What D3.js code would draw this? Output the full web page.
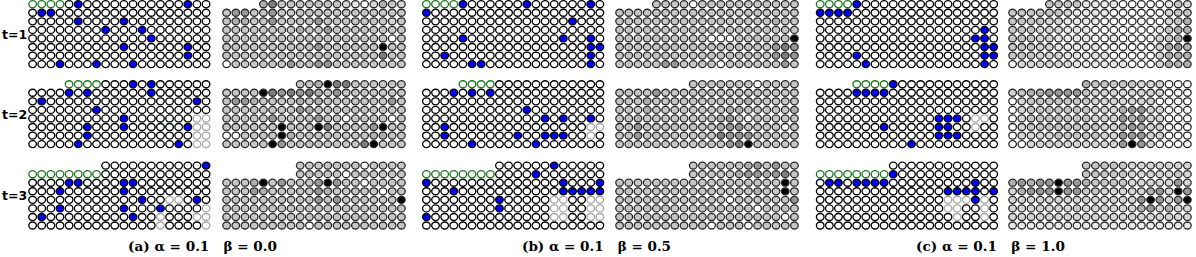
<!DOCTYPE html>
<html><head><meta charset="utf-8">
<script src="https://cdn.jsdelivr.net/npm/d3@7"></script>
<style>body{margin:0;background:#fff} svg{display:block}</style>
</head><body>
<svg id="chart" width="1196" height="257"></svg>
<script>
// ---------- labels ----------
const panelLabels = ["(a)", "(b)", "(c)"];
const alphaValues = ["0.1", "0.1", "0.1"];
const betaValues = ["0.0", "0.5", "1.0"];
const timeLabels = ["t=1", "t=2", "t=3"];
const nCols = 20, nRows = 8;

// ---------- grid shapes per time step [row, col] ----------
const newCells = [
  [[0,0],[0,1],[0,2],[0,3]],
  [[0,4],[0,5],[0,6],[0,7]],
  [[1,0],[1,1],[1,2],[1,3],[1,4],[1,5],[1,6],[1,7]]
];
const hiddenAgentCells = [
  [],
  [[0,0],[0,1],[0,2],[0,3]],
  [[0,0],[0,1],[0,2],[0,3],[0,4],[0,5],[0,6],[0,7]]
];

// ---------- agent positions (blue) [row, col] ----------
const agentsA1 = [[0,5],[0,17],[1,1],[1,2],[2,5],[2,10],[3,8],[3,12],[4,13],[5,10],[5,17],[6,17],[7,3],[7,7],[7,11]];
const agentsA2 = [[0,11],[0,13],[1,4],[1,6],[1,13],[2,1],[2,18],[3,7],[4,10],[5,6],[5,10],[5,17],[6,6],[7,5],[7,16]];
const agentsA3 = [[0,19],[2,4],[2,5],[2,10],[2,11],[3,3],[3,10],[4,12],[4,18],[5,3],[5,10],[5,14],[6,1],[6,11]];
const agentsB1 = [[0,4],[0,11],[0,18],[1,0],[2,16],[4,4],[4,15],[4,18],[5,18],[5,19],[6,2],[6,18],[7,5],[7,6],[7,18]];
const agentsB2 = [[1,3],[1,5],[1,7],[3,11],[4,13],[4,15],[4,18],[5,2],[6,2],[6,10],[6,13],[6,14],[6,15],[7,5],[7,12]];
const agentsB3 = [[0,14],[1,12],[2,0],[2,15],[2,19],[3,3],[3,15],[3,16],[3,17],[3,18],[3,19],[4,8],[5,8],[6,0]];
const agentsC1 = [[0,4],[1,0],[1,1],[1,2],[1,3],[3,18],[4,17],[4,18],[5,18],[5,19],[6,4],[6,18],[6,19],[7,5],[7,18]];
const agentsC2 = [[0,8],[1,4],[1,5],[1,6],[1,7],[4,13],[4,14],[4,15],[5,7],[5,13],[5,14],[6,13],[6,14],[6,15],[7,10]];
const agentsC3 = [[1,8],[2,1],[2,2],[2,4],[2,5],[2,6],[2,7],[2,17],[3,14],[3,15],[3,16],[3,17],[3,19],[4,17]];

// ---------- faint (grey outlined) cells [row, col] ----------
const faintA1 = [];
const faintA2 = [[4,18],[4,19],[5,18],[5,19],[6,18],[6,19],[7,18],[7,19]];
const faintA3 = [[4,15],[4,16],[5,19],[6,14],[6,18],[6,19],[7,14],[7,19]];
const faintB1 = [];
const faintB2 = [[5,18],[6,18],[5,19]];
const faintB3 = [[4,14],[4,15],[4,18],[4,19],[5,14],[5,15],[5,18],[5,19],[6,14],[6,15],[6,18],[6,19]];
const faintC1 = [];
const faintC2 = [[4,17],[4,18],[5,17]];
const faintC3 = [[4,14],[4,15],[4,16],[4,18],[5,14],[5,15],[5,18],[6,15],[6,18]];

// ---------- green links under the cells [[r1,c1],[r2,c2]] ----------
const linksA1 = [[[3,18],[7,18]],[[4,18],[4,19]],[[5,18],[5,19]],[[6,18],[6,19]]];
const linksA2 = [[[4,13],[4,15]],[[5,13],[5,15]],[[6,13],[6,15]],[[4,14],[6,14]]];
const linksA3 = [[[3,14],[3,19]],[[3,17],[4,17]]];
const linksB1 = [[[4,18],[7,18]],[[5,18],[5,19]]];
const linksB2 = [[[4,13],[4,15]],[[6,13],[6,15]],[[4,14],[6,14]]];
const linksB3 = [[[3,15],[3,19]],[[2,15],[3,15]],[[2,19],[3,19]]];
const linksC1 = [[[3,18],[7,18]],[[4,17],[4,18]],[[5,18],[5,19]],[[6,18],[6,19]],[[5,19],[6,19]]];
const linksC2 = [[[4,13],[4,15]],[[5,13],[5,14]],[[6,13],[6,15]],[[4,13],[6,13]],[[4,14],[6,14]]];
const linksC3 = [[[3,14],[3,19]],[[2,17],[4,17]],[[2,4],[2,7]],[[2,1],[2,2]]];

// ---------- exploration maps (right): '.' none, 0 white .. 9 black ----------
const mapA1 = [
  "....4 63333 33321 02432",
  "35533 53333 33333 33333",
  "34433 53333 53333 33323",
  "33333 33343 35333 33333",
  "33333 33333 33333 33303",
  "33333 33333 53333 33933",
  "33333 33333 33333 33633",
  "03333 33533 55333 33333"
];
const mapA2 = [
  "..... ...33 49663 33333",
  "33339 65656 43533 33333",
  "35543 33343 43333 33353",
  "33333 33354 33333 33333",
  "33333 53333 53303 33303",
  "33333 39333 96333 35933",
  "00333 39433 33333 34433",
  "33333 95333 33333 69333"
];
const mapA3 = [
  "..... ...33 33333 03333",
  "..... ...33 33303 33333",
  "33349 35333 59533 03333",
  "33354 33333 54333 33033",
  "33333 33333 53533 33339",
  "33333 33333 33333 33333",
  "33333 33333 33333 33333",
  "33333 33330 33333 33333"
];
const mapB1 = [
  "....3 33303 33333 33333",
  "33333 33333 33323 33333",
  "33333 33333 33333 33433",
  "33333 33333 33333 33333",
  "33333 33333 00033 33339",
  "33333 33333 33333 33565",
  "33333 33333 33333 33565",
  "33333 55333 30333 33353"
];
const mapB2 = [
  "..... ...33 33333 03333",
  "33335 33333 33333 33333",
  "33343 33333 33334 33333",
  "33343 33333 33443 33334",
  "33433 33333 34530 33333",
  "33533 33333 34553 33303",
  "33533 33333 36555 33333",
  "33333 33333 33569 33333"
];
const mapB3 = [
  "..... ...33 33334 53533",
  "..... ...33 33345 54563",
  "33333 33333 33333 33393",
  "33333 33333 33333 43393",
  "33333 33333 33033 33335",
  "33333 33333 33333 03333",
  "33333 33333 33333 33303",
  "33333 33333 03330 33333"
];
const mapC1 = [
  "....3 33311 11000 00132",
  "33333 32111 10000 00233",
  "33332 21111 00000 00234",
  "33322 21110 00000 01344",
  "33322 11110 01000 02349",
  "33322 11111 00000 02454",
  "33322 21111 10000 02444",
  "02222 22111 11100 02444"
];
const mapC2 = [
  "..... ...43 33332 22000",
  "23445 55532 22222 22000",
  "02333 33332 22222 20000",
  "02333 33332 22455 22000",
  "02333 33332 22545 22000",
  "02333 33333 22454 22000",
  "02222 33333 22555 22000",
  "00222 22222 22595 20000"
];
const mapC3 = [
  "..... ...33 33322 22222",
  "..... ...33 33322 22232",
  "45455 95543 33322 22252",
  "24555 95533 22222 45295",
  "22222 22222 22225 95259",
  "22222 22322 22224 52422",
  "22222 22222 22222 22222",
  "11111 11111 11111 11111"
];

const agentSets = [[agentsA1, agentsA2, agentsA3], [agentsB1, agentsB2, agentsB3], [agentsC1, agentsC2, agentsC3]];
const faintSets = [[faintA1, faintA2, faintA3], [faintB1, faintB2, faintB3], [faintC1, faintC2, faintC3]];
const linkSets = [[linksA1, linksA2, linksA3], [linksB1, linksB2, linksB3], [linksC1, linksC2, linksC3]];
const mapGrids = [[mapA1, mapA2, mapA3], [mapB1, mapB2, mapB3], [mapC1, mapC2, mapC3]];

// ---------- drawing ----------
const svg = d3.select("#chart");
const shade = d3.scaleOrdinal().domain(d3.range(10))
  .range(["#ffffff", "#e8e8e8", "#d6d6d6", "#c6c6c6", "#b0b0b0", "#989898", "#7e7e7e", "#5e5e5e", "#3a3a3a", "#000000"]);
const rowTops = [4.2, 84.2, 165.6];
const rowStep = 8.56;
const yScale = t => d3.scaleLinear().domain([0, nRows - 1]).range([rowTops[t], rowTops[t] + (nRows - 1) * rowStep]);
const xAgents = p => d3.scaleLinear().domain([0, nCols - 1]).range([32.6 + 393.8 * p, 32.6 + 393.8 * p + 19 * 9.13]);
const xMap = p => d3.scaleLinear().domain([0, nCols - 1]).range([226.6 + 393 * p, 226.6 + 393 * p + 19 * 9.2]);
const RX = 3.8, RY = 3.5;
const key = (r, c) => r + "," + c;

function agentCells(t, agents, faint) {
  const hidden = new Set(hiddenAgentCells[t].map(d => key(...d)));
  const fresh = new Set(newCells[t].map(d => key(...d)));
  const blue = new Set(agents.map(d => key(...d)));
  const light = new Set(faint.map(d => key(...d)));
  const out = [];
  for (let r = 0; r < nRows; r++) for (let c = 0; c < nCols; c++) {
    const k = key(r, c);
    if (hidden.has(k)) continue;
    out.push({ r, c, kind: blue.has(k) ? "b" : fresh.has(k) ? "g" : light.has(k) ? "l" : "o" });
  }
  return out;
}
function mapCells(grid) {
  const out = [];
  grid.forEach((row, r) => {
    row.replace(/ /g, "").split("").forEach((ch, c) => {
      if (ch !== ".") out.push({ r, c, v: +ch });
    });
  });
  return out;
}

for (let p = 0; p < 3; p++) {
  for (let t = 0; t < 3; t++) {
    const y = yScale(t);
    const xa = xAgents(p);
    svg.append("g").selectAll("line").data(linkSets[p][t]).join("line")
      .attr("x1", d => xa(d[0][1])).attr("y1", d => y(d[0][0]))
      .attr("x2", d => xa(d[1][1])).attr("y2", d => y(d[1][0]))
      .attr("stroke", "#1f8a1f").attr("stroke-width", 1.6);
    svg.append("g").selectAll("ellipse").data(agentCells(t, agentSets[p][t], faintSets[p][t])).join("ellipse")
      .attr("cx", d => xa(d.c)).attr("cy", d => y(d.r))
      .attr("rx", RX).attr("ry", RY)
      .attr("fill", d => d.kind === "b" ? "#0000ff" : "#ffffff")
      .attr("stroke", d => d.kind === "g" ? "#1f7a1f" : d.kind === "l" ? "#a8a8a8" : "#000000")
      .attr("stroke-width", 1.35);

    const xm = xMap(p);
    svg.append("g").selectAll("ellipse").data(mapCells(mapGrids[p][t])).join("ellipse")
      .attr("cx", d => xm(d.c)).attr("cy", d => y(d.r))
      .attr("rx", RX).attr("ry", RY)
      .attr("fill", d => shade(d.v))
      .attr("stroke", "#2a2a2a")
      .attr("stroke-width", 1.3);
  }
}

// time labels
timeLabels.forEach((lab, t) => {
  svg.append("text").attr("x", 2).attr("y", yScale(t)(3.5) + 4.5)
    .attr("font-family", "DejaVu Sans").attr("font-weight", "bold").attr("font-size", 12.5)
    .text(lab);
});

// captions
panelLabels.forEach((lab, p) => {
  svg.append("text").attr("x", 202.5 + 394 * p).attr("y", 251)
    .attr("text-anchor", "middle").attr("xml:space", "preserve")
    .attr("font-family", "DejaVu Serif").attr("font-weight", "bold").attr("font-size", 12)
    .attr("textLength", 149).attr("lengthAdjust", "spacingAndGlyphs")
    .text(`${lab} α = ${alphaValues[p]}   β = ${betaValues[p]}`);
});
</script>
</body></html>
